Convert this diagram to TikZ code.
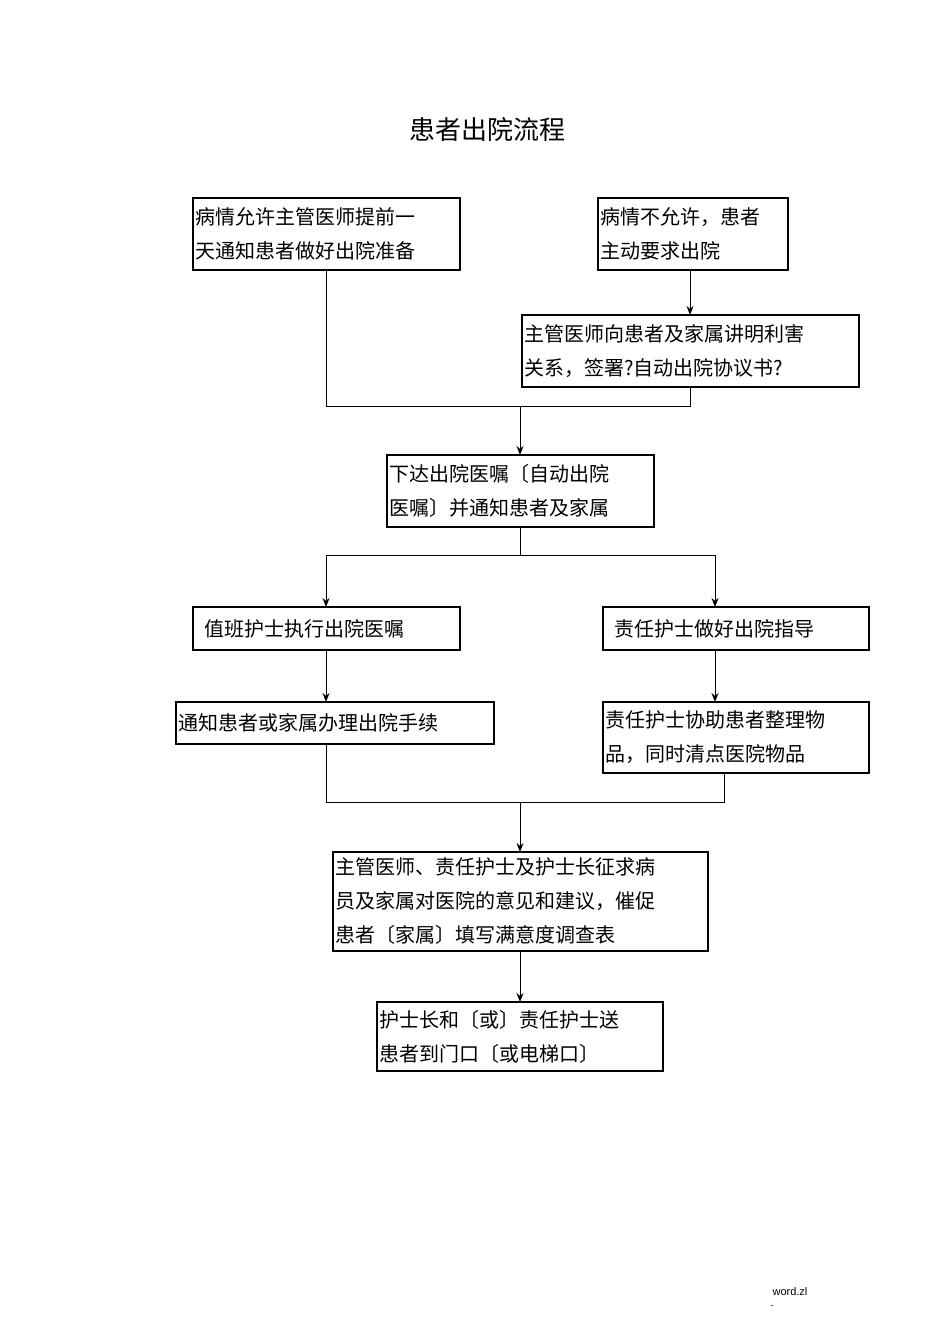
\documentclass[tikz,border=0pt]{standalone}
\usepackage{fontspec}
\setmainfont{Liberation Sans}
\newfontfamily\cjk{Noto Sans CJK SC}
\usetikzlibrary{arrows.meta}
\begin{document}
\begin{tikzpicture}[x=1pt,y=-1pt,
  box/.style={draw,line width=1.3pt,inner sep=2pt,font=\cjk\fontsize{20}{34}\selectfont,align=left,anchor=north west},
  ln/.style={line width=1pt},
  ar/.style={line width=1pt,-{Stealth[length=9pt,width=7pt]}}]
\useasboundingbox (0,0) rectangle (950,1344);
\node[font=\cjk\fontsize{26}{30}\selectfont] (title) at (487,130) {患者出院流程};
\newcommand\bx[6]{\draw[line width=1.3pt] (#2,#3) rectangle (#4,#5);
  \node[font=\cjk\fontsize{20}{34}\selectfont,align=left,anchor=west,inner sep=2pt] (#1) at (#2,{(#3+#5)/2}) {#6};
  \coordinate (#1n) at ({(#2+#4)/2},#3);}
\bx{A}{193}{198}{460}{270}{病情允许主管医师提前一\\天通知患者做好出院准备}
\bx{B}{598}{198}{788}{270}{病情不允许，患者\\主动要求出院}
\bx{C}{522}{315}{859}{387}{主管医师向患者及家属讲明利害\\关系，签署?自动出院协议书?}
\bx{D}{387}{455}{654}{527}{下达出院医嘱〔自动出院\\医嘱〕并通知患者及家属}
\bx{E}{193}{607}{460}{650}{\ \ 值班护士执行出院医嘱}
\bx{F}{603}{607}{869}{650}{\ \ 责任护士做好出院指导}
\bx{G}{176}{702}{494}{744}{通知患者或家属办理出院手续}
\bx{H}{603}{702}{869}{773}{责任护士协助患者整理物\\品，同时清点医院物品}
\bx{I}{333}{852}{708}{951}{主管医师、责任护士及护士长征求病\\员及家属对医院的意见和建议，催促\\患者〔家属〕填写满意度调查表}
\bx{J}{377}{1002}{663}{1071}{护士长和〔或〕责任护士送\\患者到门口〔或电梯口〕}
\coordinate (j1) at (326,406); \coordinate (j2) at (690,406); \coordinate (j3) at (520,406);
\draw[ln] (326,270) -- (j1) -- (j2) -- (690,387);
\draw[ar] (690,270) -- (690,315);
\draw[ar] (j3) -- (520,455);
\coordinate (k1) at (326,555); \coordinate (k2) at (715,555);
\draw[ln] (520,527) -- (520,555);
\draw[ln] (k1) -- (k2);
\draw[ar] (k1) -- (326,607);
\draw[ar] (k2) -- (715,607);
\draw[ar] (326,650) -- (326,702);
\draw[ar] (715,650) -- (715,702);
\coordinate (m1) at (326,802); \coordinate (m2) at (724,802);
\draw[ln] (326,744) -- (m1) -- (m2) -- (724,773);
\draw[ar] (520,802) -- (520,852);
\draw[ar] (520,951) -- (520,1002);
\node[font=\fontsize{11}{13}\selectfont] (ft) at (790,1292) {word.zl};
\node[font=\fontsize{9}{11}\selectfont] (ft2) at (772,1307) {-};
\end{tikzpicture}
\end{document}
